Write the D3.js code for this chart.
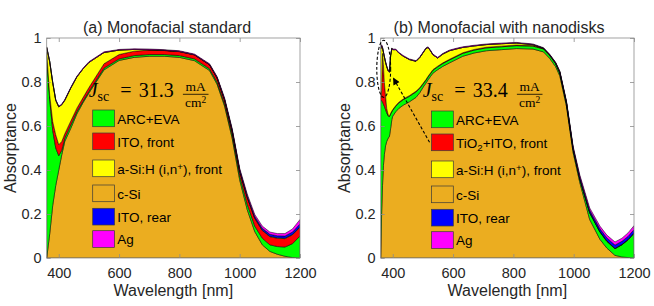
<!DOCTYPE html>
<html><head><meta charset="utf-8">
<script src="https://cdnjs.cloudflare.com/ajax/libs/d3/7.8.5/d3.min.js"></script>
<style>
body{margin:0;background:#fff}
svg{display:block}
text{font-family:"Liberation Sans",Arial,Helvetica,sans-serif;fill:#262626}
</style>
</head><body>
<svg id="c" width="654" height="306"></svg>
<script>
// ---------------- DATA ----------------
const xTicks = [400, 600, 800, 1000, 1200];
const yTicks = [0, 0.2, 0.4, 0.6, 0.8, 1];
const stackKeys = ["cSi", "arc", "itoF", "aSi", "itoR", "ag"];
const legendOrder = ["arc", "itoF", "aSi", "cSi", "itoR", "ag"];
const layerColors = {arc:"#00FF00", itoF:"#FF0000", aSi:"#FFFF00", cSi:"#EBAD20", itoR:"#0000FF", ag:"#FF00FF"};
const legendLabelsA = {arc:"ARC+EVA", itoF:"ITO, front", aSi:"a-Si:H (i,n^{+}), front", cSi:"c-Si", itoR:"ITO, rear", ag:"Ag"};
const legendLabelsB = {arc:"ARC+EVA", itoF:"TiO_{2}+ITO, front", aSi:"a-Si:H (i,n^{+}), front", cSi:"c-Si", itoR:"ITO, rear", ag:"Ag"};
const titles = ["(a) Monofacial standard", "(b) Monofacial with nanodisks"];
const jscValues = ["31.3", "33.4"];

// Panel (a): monofacial standard
const wlA   = [360,370,380,390,400,410,420,440,460,480,500,550,600,650,700,750,800,850,900,925,950,975,1000,1025,1050,1075,1100,1125,1150,1175,1200];
const cSiA  = [0,.11,.24,.33,.40,.47,.53,.59,.655,.705,.75,.855,.898,.912,.917,.917,.912,.897,.852,.79,.69,.545,.355,.22,.12,.06,.03,.017,.008,.002,0];
const arcA  = [.92,.61,.34,.17,.065,.02,.015,.015,.01,.007,.007,.008,.007,.008,.008,.008,.008,.008,.008,.01,.01,.015,.02,.025,.025,.03,.03,.035,.042,.063,.10];
const itoFA = [.015,.02,.04,.06,.05,.04,.02,.018,.016,.016,.018,.02,.02,.02,.02,.018,.018,.018,.018,.018,.018,.018,.02,.03,.035,.035,.037,.038,.038,.04,.04];
const aSiA  = [.022,.152,.177,.157,.172,.167,.152,.15,.142,.131,.114,.051,.02,.008,.002,.001,.001,.001,.001,.001,.001,.001,.001,.002,.002,.002,.002,.002,.002,.002,.002];
const itoRA = [0,0,0,0,0,0,0,0,0,0,0,0,0,0,0,0,0,0,.001,.002,.003,.004,.005,.006,.007,.008,.009,.009,.01,.011,.013];
const agA   = [.003,.003,.003,.003,.003,.003,.003,.003,.003,.003,.003,.003,.003,.003,.003,.003,.003,.003,.003,.004,.005,.006,.007,.008,.009,.01,.01,.01,.011,.014,.02];

// Panel (b): monofacial with nanodisks
const wlB   = [360,363,366,369,372,376,380,385,389,393,397,400,410,420,435,455,477,490,500,510,517,525,533,549,566,588,610,632,670,710,760,810,865,900,920,940,954,976,998,1020,1053,1087,1110,1137,1160,1180,1200];
const cSiB  = [0,.2,.33,.42,.47,.51,.53,.545,.553,.59,.63,.645,.665,.68,.695,.71,.73,.752,.775,.795,.81,.825,.84,.856,.871,.887,.902,.917,.932,.942,.947,.952,.95,.937,.908,.87,.828,.69,.48,.345,.175,.085,.045,.012,.005,.002,0];
const arcB  = [.72,.515,.38,.28,.22,.165,.13,.10,.09,.065,.035,.027,.025,.025,.025,.025,.025,.02,.015,.013,.013,.013,.013,.013,.013,.013,.013,.013,.013,.013,.013,.013,.013,.013,.013,.013,.013,.013,.014,.015,.03,.033,.03,.03,.055,.08,.112];
const itoFB = [.005,.045,.22,.18,.11,.065,.02,.005,.003,.003,.003,.003,.003,.003,.003,.003,.003,.003,.003,.003,.003,.003,.003,.003,.003,.003,.003,.003,.003,.003,.003,.003,.003,.002,.002,.002,.002,.002,.002,.002,.002,.002,.002,.001,.001,.001,.001];
const aSiB  = [.225,.205,.025,.055,.115,.15,.19,.20,.199,.262,.284,.272,.254,.224,.194,.164,.136,.137,.139,.141,.131,.101,.068,.037,.04,.039,.032,.024,.016,.012,.011,.009,.004,.001,.001,.001,.001,.001,.001,.001,.001,.001,.001,.001,.001,.001,.001];
const itoRB = [0,0,0,0,0,0,0,0,0,0,0,0,0,0,0,0,0,0,0,0,0,0,0,0,0,0,0,0,0,0,0,0,0,.001,.001,.002,.003,.004,.006,.008,.01,.012,.013,.015,.014,.014,.015];
const agB   = [.005,.005,.005,.004,.004,.004,.003,.003,.003,.003,.003,.003,.003,.003,.003,.003,.003,.003,.003,.003,.003,.003,.003,.003,.003,.003,.003,.003,.003,.003,.003,.003,.003,.002,.002,.002,.003,.004,.006,.008,.01,.012,.013,.014,.014,.016,.018];

// Annotation in panel (b): dashed ellipse (data coords) and arrow
const ellipseB = {wl:370, v:0.86, rWl:23, rV:0.13};
const arrowB = {fromWl:522, fromV:0.526, toWl:401, toV:0.82};

// ---------------- DRAW ----------------
function buildRows(wl, cols) {
  return wl.map((w, i) => {
    const r = {wl: w};
    stackKeys.forEach(k => r[k] = cols[k][i]);
    return r;
  });
}
const panels = [
  {left:46.7, titleX:167, rows: buildRows(wlA, {cSi:cSiA, arc:arcA, itoF:itoFA, aSi:aSiA, itoR:itoRA, ag:agA}), labels:legendLabelsA, title:titles[0], jsc:jscValues[0], legendTop:110},
  {left:380.7, titleX:499, rows: buildRows(wlB, {cSi:cSiB, arc:arcB, itoF:itoFB, aSi:aSiB, itoR:itoRB, ag:agB}), labels:legendLabelsB, title:titles[1], jsc:jscValues[1], legendTop:111, annot:true}
];

const svg = d3.select("#c");
const T = 38, W = 253.3, H = 220;
const defs = svg.append("defs");
defs.append("marker").attr("id","arrowhead").attr("viewBox","0 0 10 10").attr("refX",10).attr("refY",5)
  .attr("markerWidth",9).attr("markerHeight",7).attr("markerUnits","userSpaceOnUse").attr("orient","auto")
  .append("path").attr("d","M0,0 L10,5 L0,10 z").attr("fill","#000");

function richText(sel, str) {
  const parts = str.split(/(\^\{[^}]*\}|_\{[^}]*\})/).filter(s => s.length);
  parts.forEach(p => {
    if (p.startsWith("^{")) {
      sel.append("tspan").attr("font-size","0.72em").attr("baseline-shift","45%").text(p.slice(2,-1));
    } else if (p.startsWith("_{")) {
      sel.append("tspan").attr("font-size","0.72em").attr("baseline-shift","-25%").text(p.slice(2,-1));
    } else {
      sel.append("tspan").text(p);
    }
  });
}

panels.forEach((p, pi) => {
  const g = svg.append("g").attr("transform", `translate(${p.left},${T})`);
  const x = d3.scaleLinear().domain([360, 1200]).range([0, W]);
  const y = d3.scaleLinear().domain([0, 1]).range([H, 0]);

  defs.append("clipPath").attr("id","clip"+pi).append("rect").attr("width",W).attr("height",H);

  const series = d3.stack().keys(stackKeys)(p.rows);
  const area = d3.area().x(d => x(d.data.wl)).y0(d => y(d[0])).y1(d => y(d[1]));
  g.append("g").attr("clip-path",`url(#clip${pi})`).selectAll("path").data(series).join("path")
    .attr("d", area).attr("fill", d => layerColors[d.key])
    .attr("stroke","#000").attr("stroke-width",0.5).attr("stroke-linejoin","round");

  // box
  g.append("rect").attr("width",W).attr("height",H).attr("fill","none").attr("stroke","#8c8c8c").attr("stroke-width",0.8);

  // axes
  const ax = g.append("g").attr("transform",`translate(0,${H})`)
    .call(d3.axisBottom(x).tickValues(xTicks).tickSize(-4).tickPadding(10).tickFormat(d3.format("d")));
  const ay = g.append("g")
    .call(d3.axisLeft(y).tickValues(yTicks).tickSize(-4).tickPadding(5).tickFormat(d => d === 0 ? "0" : d === 1 ? "1" : d3.format(".1f")(d)));
  const axT = g.append("g").call(d3.axisTop(x).tickValues(xTicks).tickSize(-4).tickFormat(""));
  const ayR = g.append("g").attr("transform",`translate(${W},0)`).call(d3.axisRight(y).tickValues(yTicks).tickSize(-4).tickFormat(""));
  [ax, ay, axT, ayR].forEach(a => {
    a.select(".domain").remove();
    a.selectAll(".tick line").attr("stroke","#8c8c8c").attr("stroke-width",0.8);
    a.selectAll(".tick text").attr("fill","#262626").style("font-size","14.5px").style("font-family",'"Liberation Sans",Arial,sans-serif');
  });

  // labels
  svg.append("text").attr("x", p.titleX).attr("y", 33).attr("text-anchor","middle").style("font-size","16px").text(p.title);
  svg.append("text").attr("x", p.left + W/2).attr("y", 296).attr("text-anchor","middle").style("font-size","16px").text("Wavelength [nm]");
  svg.append("text").attr("transform",`translate(${p.left - 31},${T + H/2}) rotate(-90)`).attr("text-anchor","middle").style("font-size","16px").text("Absorptance");

  // Jsc
  const serif = "'Liberation Serif','DejaVu Serif',serif";
  const jt = g.append("text").attr("y", 58.7).style("font-family", serif).style("font-size","20px").style("fill","#000");
  jt.append("tspan").attr("x", 42).style("font-style","italic").text("J");
  jt.append("tspan").attr("dy", 4).style("font-size","14px").text("sc");
  jt.append("tspan").attr("x", 73.5).attr("dy", -4).text("=");
  jt.append("tspan").attr("x", 92).text(p.jsc);
  const fx = 149;
  g.append("text").attr("x", fx).attr("y", 52.5).attr("text-anchor","middle").style("font-family", serif).style("font-size","13.5px").style("fill","#000").text("mA");
  g.append("line").attr("x1", fx - 12.8).attr("x2", fx + 12.8).attr("y1", 56.3).attr("y2", 56.3).attr("stroke","#000").attr("stroke-width",0.8);
  const ct = g.append("text").attr("x", fx).attr("y", 69).attr("text-anchor","middle").style("font-family", serif).style("font-size","13.5px").style("fill","#000");
  ct.append("tspan").text("cm");
  ct.append("tspan").attr("font-size","0.7em").attr("baseline-shift","40%").text("2");

  // legend
  const rowOff = [0, 23, 50, 75, 98.3, 120.7];
  const bx = (pi === 0 ? 92.7 : 431.5) - p.left;
  legendOrder.forEach((k, i) => {
    const ry = p.legendTop - T + rowOff[i];
    g.append("rect").attr("x", bx).attr("y", ry).attr("width", 21.8).attr("height", 16.7)
      .attr("fill", layerColors[k]).attr("stroke","#3a3a3a").attr("stroke-width",0.7);
    const t = g.append("text").attr("x", bx + 24.5).attr("y", ry + 13.6).style("font-size","13.5px").style("fill","#000");
    richText(t, p.labels[k]);
  });

  if (p.annot) {
    g.append("ellipse").attr("cx", x(ellipseB.wl)).attr("cy", y(ellipseB.v))
      .attr("rx", x(ellipseB.wl + ellipseB.rWl) - x(ellipseB.wl)).attr("ry", y(ellipseB.v - ellipseB.rV) - y(ellipseB.v))
      .attr("fill","none").attr("stroke","#000").attr("stroke-width",1.1).attr("stroke-dasharray","3,2");
    g.append("line").attr("x1", x(arrowB.fromWl)).attr("y1", y(arrowB.fromV)).attr("x2", x(arrowB.toWl)).attr("y2", y(arrowB.toV))
      .attr("stroke","#000").attr("stroke-width",1.1).attr("stroke-dasharray","3,2").attr("marker-end","url(#arrowhead)");
  }
});
</script>
</body></html>
